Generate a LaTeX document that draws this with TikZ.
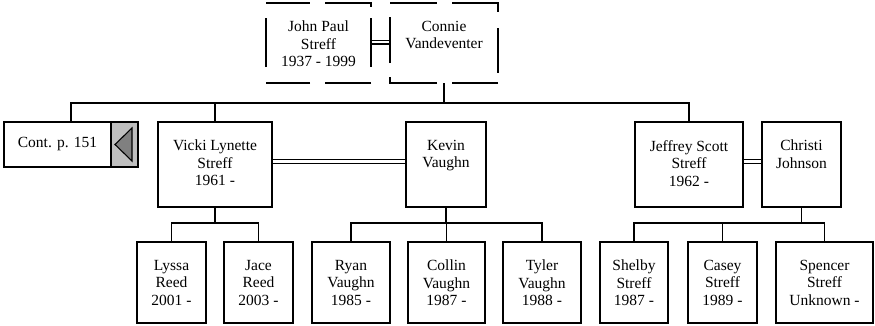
\documentclass[tikz,border=0pt]{standalone}
\usepackage{fontspec}
\setmainfont{Liberation Serif}
\newcommand\pfont{\fontsize{15.5pt}{17.5pt}\selectfont}
\tikzset{
  pbox/.style={draw, line width=1.9pt, inner sep=0pt, outer sep=0pt},
  dbox/.style={draw=none, inner sep=0pt, outer sep=0pt},
  dashedge/.style={line width=1.4pt},
  ptext/.style={font=\pfont, align=center, inner sep=0pt, anchor=north},
  conn/.style={line width=1.9pt},
  marriage/.style={double, line width=1.3pt, double distance=2.4pt, shorten <=0.9pt, shorten >=0.9pt},
}
\newcommand\person[7][pbox]{%
  \node[#1, minimum width={(#5-#3)*1pt}, minimum height={(#6-#4)*1pt}] (#2) at ({(#3+#5)/2},{(#4+#6)/2}) {};
  \node[ptext] (#2-t) at ([yshift=-18pt]#2.north) {#7};
}
\begin{document}
\begin{tikzpicture}[x=1pt,y=-1pt]
\useasboundingbox (0,0) rectangle (875,325);
% generation 1 (dashed)
\person[dbox]{john}{266}{3}{371}{83}{John Paul\\Streff\\1937 - 1999}
\person[dbox]{connie}{390}{3}{498}{83}{Connie\\Vandeventer}
\draw[dashedge] (266,3) -- (310,3) (325,3) -- (371,3) -- (371,7)
  (371,18) -- (371,67) (371,83) -- (325,83) (310,83) -- (266,83)
  (266,67) -- (266,18);
\draw[dashedge] (390,3) -- (437,3) (452,3) -- (498,3) -- (498,12)
  (498,28) -- (498,73) (498,83) -- (452,83) (437,83) -- (390,83) -- (390,77)
  (390,63) -- (390,17);
% generation 2
\node[pbox, fill=white, minimum width=134pt, minimum height=45pt] (cont) at (71,144.5) {};
\node[pbox, fill=black!25, minimum width=27pt, minimum height=45pt] (contbtn) at (124.5,144.5) {};
\node[font=\pfont, inner sep=0pt] (cont-t) at (57.5,144.5) {Cont. p. 151};
\draw[line width=1.1pt, fill=black!50] (115,144.5) -- (132,128) -- (132,161) -- cycle;
\person{vicki}{158}{122}{272}{207}{Vicki Lynette\\Streff\\1961 -}
\person{kevin}{406}{122}{486}{207}{Kevin\\Vaughn}
\person{jeffrey}{635}{122}{743}{207}{Jeffrey Scott\\Streff\\1962 -}
\person{christi}{762}{122}{841}{207}{Christi\\Johnson}
% generation 3
\person{lyssa}{137}{242}{206}{323}{Lyssa\\Reed\\2001 -}
\person{jace}{224}{242}{293}{323}{Jace\\Reed\\2003 -}
\person{ryan}{312}{242}{390}{323}{Ryan\\Vaughn\\1985 -}
\person{collin}{408}{242}{485}{323}{Collin\\Vaughn\\1987 -}
\person{tyler}{503}{242}{581}{323}{Tyler\\Vaughn\\1988 -}
\person{shelby}{600}{242}{668}{323}{Shelby\\Streff\\1987 -}
\person{casey}{688}{242}{757}{323}{Casey\\Streff\\1989 -}
\person{spencer}{776}{242}{873}{323}{Spencer\\Streff\\Unknown -}
% marriages
\draw[marriage] ([yshift=1pt]john.east) -- ([yshift=1pt]connie.west);
\draw[marriage] ([yshift=3pt]vicki.east) -- ([yshift=3pt]kevin.west);
\draw[marriage] ([yshift=3pt]jeffrey.east) -- ([yshift=3pt]christi.west);
% descent lines
\coordinate (bus) at (0,103);
\coordinate (kb) at (0,223);
\draw[conn] (connie.south) -- (connie.south |- bus);
\draw[conn] (cont.north) -- (cont.north |- bus) -- (jeffrey.north |- bus) -- (jeffrey.north);
\draw[conn] (vicki.north) -- (vicki.north |- bus);
\draw[conn] (vicki.south) -- (vicki.south |- kb);
\draw[conn] (lyssa.north) -- (lyssa.north |- kb) -- (jace.north |- kb) -- (jace.north);
\draw[conn] (kevin.south) -- (kevin.south |- kb);
\draw[conn] (ryan.north) -- (ryan.north |- kb) -- (tyler.north |- kb) -- (tyler.north);
\draw[conn] (collin.north) -- (collin.north |- kb);
\draw[conn] (christi.south) -- (christi.south |- kb);
\draw[conn] (shelby.north) -- (shelby.north |- kb) -- (spencer.north |- kb) -- (spencer.north);
\draw[conn] (casey.north) -- (casey.north |- kb);
\end{tikzpicture}
\end{document}
